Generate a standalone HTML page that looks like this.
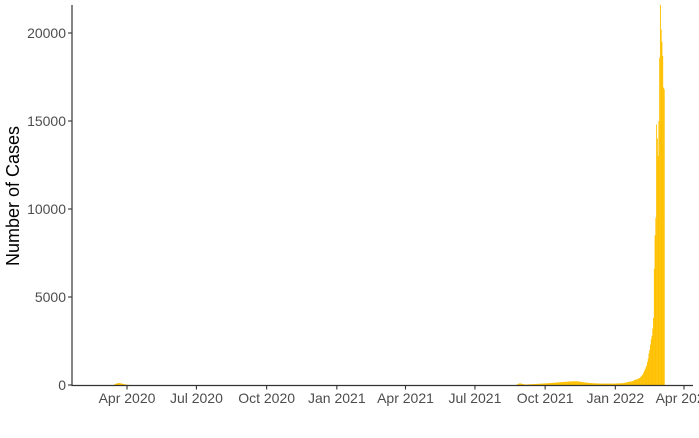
<!DOCTYPE html>
<html><head><meta charset="utf-8"><style>
body{margin:0;background:#fff}
svg text{font-family:"Liberation Sans",sans-serif}
</style></head><body>
<svg id="chart" width="699" height="433" xmlns="http://www.w3.org/2000/svg">
<g id="bars"></g>
<g id="axes"></g>
<text transform="translate(19,196) rotate(-90)" text-anchor="middle" font-size="18" fill="#000">Number of Cases</text>
</svg>
<script>
const seg1Start = "2020-03-15";
const seg1Values = [20,40,60,80,90,100,110,110,100,90,80,70,60,50,40,30,25,20,15,10];
const seg2Start = "2021-08-25";
const seg2Values = [
30,50,70,85,90,85,75,60,50,40,
35,30,30,30,35,35,40,40,45,45,
50,50,55,55,60,60,60,65,65,70,
70,75,75,80,80,85,85,90,90,95,
100,100,105,110,110,115,120,120,125,130,
130,135,140,145,150,150,155,160,160,165,
170,170,175,180,180,185,190,190,195,200,
200,205,210,210,205,200,210,215,210,205,
200,195,190,185,180,170,165,160,150,145,
140,135,130,125,120,115,110,110,105,100,
100,95,95,90,90,90,85,85,85,85,
80,80,80,80,80,80,80,80,80,80,
80,80,80,80,80,80,80,80,85,85,
85,90,90,90,90,95,95,100,100,105,
110,120,130,140,150,160,170,180,190,200,
200,220,200,250,280,300,320,300,340,360,
380,400,450,500,550,600,700,800,900,1000,
1100,1300,1500,1800,2000,2300,2600,2800,3200,3800,
6600,8500,9500,14800,14000,13000,15000,18600,21600,20200,
19500,18700,16900,16800];
const xTickLabels = ["Apr 2020","Jul 2020","Oct 2020","Jan 2021","Apr 2021","Jul 2021","Oct 2021","Jan 2022","Apr 2022"];
const xTickDates = ["2020-04-01","2020-07-01","2020-10-01","2021-01-01","2021-04-01","2021-07-01","2021-10-01","2022-01-01","2022-04-01"];
const yTickValues = [0,5000,10000,15000,20000];

const NS="http://www.w3.org/2000/svg";
const X0=127, X1=684, D0=Date.UTC(2020,3,1), D1=Date.UTC(2022,3,1);
const Y0=385, pxPerCase=352/20000;
function dayMs(s){const p=s.split("-");return Date.UTC(+p[0],+p[1]-1,+p[2]);}
function xScale(ms){return X0+(ms-D0)/(D1-D0)*(X1-X0);}
function yScale(v){return Y0-v*pxPerCase;}
const dayW=(X1-X0)/((D1-D0)/86400000);
const bars=document.getElementById("bars");
function drawSeg(start,vals){
  const s=dayMs(start);
  vals.forEach((v,i)=>{
    const r=document.createElementNS(NS,"rect");
    
    
    const x=xScale(s+i*86400000)-dayW/2;
    r.setAttribute("x",x);r.setAttribute("width",dayW+0.15);
    r.setAttribute("y",yScale(v));r.setAttribute("height",Y0-yScale(v));
    r.setAttribute("fill","#FFC000");
    bars.appendChild(r);
  });
}
drawSeg(seg1Start,seg1Values);
drawSeg(seg2Start,seg2Values);
const axes=document.getElementById("axes");
function el(tag,attrs){const e=document.createElementNS(NS,tag);for(const k in attrs)e.setAttribute(k,attrs[k]);axes.appendChild(e);return e;}
const yAxis=el("line",{x1:72,y1:5,x2:72,y2:385.5,stroke:"#333","stroke-width":1.2});


const xAxis=el("line",{x1:71.4,y1:385.5,x2:693,y2:385.5,stroke:"#333","stroke-width":1.2});


yTickValues.forEach(v=>{
  const y=yScale(v);
  const t=el("line",{x1:68,y1:y,x2:72,y2:y,stroke:"#333","stroke-width":1.1});
  
  
  const l=el("text",{x:66,y:y+5,"text-anchor":"end","font-size":14,fill:"#4d4d4d"});
  
  
  l.textContent=v;
});
xTickDates.forEach((d,i)=>{
  const x=xScale(dayMs(d));
  const t=el("line",{x1:x,y1:385,x2:x,y2:389.5,stroke:"#333","stroke-width":1.1});
  
  
  const l=el("text",{x:x,y:403,"text-anchor":"middle","font-size":14,fill:"#4d4d4d"});
  
  
  l.textContent=xTickLabels[i];
});
</script>
</body></html>
